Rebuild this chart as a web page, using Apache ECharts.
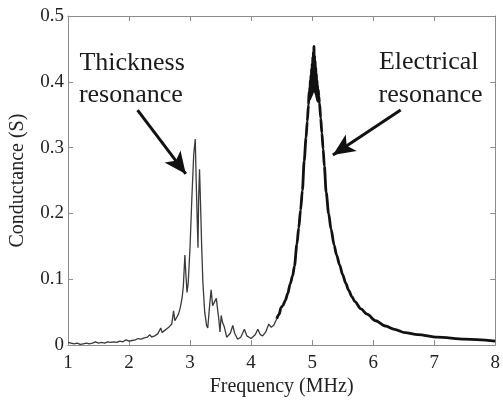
<!DOCTYPE html>
<html>
<head>
<meta charset="utf-8">
<script src="https://cdn.jsdelivr.net/npm/echarts@6/dist/echarts.min.js"></script>
<style>
html,body{margin:0;padding:0;background:#fff;}
#chart{width:503px;height:402px;}
</style>
</head>
<body>
<div id="chart"></div>
<script>
// Frequency (MHz)
var freq = [
  1.00,1.05,1.10,1.15,1.20,1.25,1.30,1.35,1.40,1.45,1.50,1.55,1.60,1.65,1.70,1.75,1.80,1.85,1.90,1.95,
  2.00,2.05,2.10,2.15,2.20,2.25,2.30,2.34,2.37,2.42,2.47,2.50,2.52,2.54,2.58,2.62,2.66,2.70,2.73,2.75,
  2.78,2.81,2.84,2.87,2.89,2.915,2.93,2.95,2.97,3.00,3.03,3.06,3.085,3.10,3.12,3.13,3.14,3.155,3.17,3.19,
  3.21,3.24,3.27,3.29,3.32,3.345,3.37,3.39,3.43,3.45,3.47,3.49,3.51,3.53,3.56,3.60,3.63,3.66,3.70,3.73,
  3.78,3.83,3.89,3.93,4.00,4.03,4.07,4.11,4.15,4.19,4.24,4.29,4.33,4.37,4.42,4.46,4.49,4.52,4.56,4.60,
  4.64,4.68,4.71,4.75,4.78,4.81,4.84,4.87,4.90,4.92,4.94,
  4.950,4.955,4.960,4.965,4.970,4.975,4.980,4.985,4.990,4.995,5.000,5.005,5.010,5.015,5.020,5.025,
  5.030,5.035,5.040,5.045,5.050,5.055,5.060,5.065,5.070,5.075,5.080,5.085,5.090,5.095,5.100,5.110,
  5.12,5.14,5.16,5.18,5.20,5.23,5.27,5.31,5.36,5.40,5.45,5.50,5.55,5.60,5.65,5.70,5.80,5.90,6.04,
  6.20,6.35,6.52,6.73,7.05,7.50,8.00
];
// Conductance (S)
var cond = [
  0.004,0.003,0.002,0.003,0.001,0.002,0.003,0.002,0.003,0.005,0.003,0.004,0.003,0.005,0.004,0.005,0.004,0.006,0.005,0.008,
  0.006,0.007,0.008,0.010,0.009,0.011,0.012,0.016,0.012,0.014,0.017,0.018,0.026,0.019,0.022,0.025,0.028,0.032,0.052,0.037,
  0.042,0.047,0.057,0.072,0.090,0.137,0.110,0.080,0.095,0.150,0.225,0.290,0.313,0.250,0.180,0.148,0.220,0.267,0.220,0.150,
  0.095,0.050,0.030,0.026,0.060,0.084,0.060,0.058,0.071,0.055,0.040,0.020,0.045,0.035,0.028,0.012,0.010,0.018,0.030,0.018,
  0.009,0.012,0.024,0.014,0.010,0.011,0.016,0.024,0.016,0.014,0.020,0.032,0.027,0.030,0.040,0.047,0.057,0.060,0.068,0.078,
  0.093,0.105,0.120,0.153,0.178,0.205,0.235,0.280,0.315,0.340,0.365,
  0.385,0.372,0.392,0.374,0.402,0.376,0.410,0.378,0.420,0.380,0.428,0.382,0.438,0.385,0.446,0.390,
  0.454,0.388,0.440,0.385,0.432,0.382,0.422,0.380,0.412,0.376,0.402,0.372,0.395,0.370,0.388,0.378,
  0.368,0.345,0.322,0.298,0.272,0.232,0.200,0.176,0.152,0.137,0.122,0.107,0.094,0.083,0.074,0.066,0.055,0.047,0.037,
  0.029,0.024,0.019,0.016,0.012,0.009,0.006
];
var splitFreq = 4.42;
var xTicks = [1,2,3,4,5,6,7,8];
var yTicks = [0,0.1,0.2,0.3,0.4,0.5];
var annotationTexts = [
  {text:'Thickness', at:[2.05,0.429]},
  {text:'resonance', at:[2.03,0.380]},
  {text:'Electrical', at:[6.91,0.430]},
  {text:'resonance', at:[6.94,0.380]}
];
var arrows = [
  [[2.14,0.357],[2.93,0.260]],
  [[6.45,0.357],[5.34,0.289]]
];

var thin = [], thick = [];
for (var i = 0; i < freq.length; i++) {
  if (freq[i] <= splitFreq) thin.push([freq[i], cond[i]]);
  if (freq[i] >= splitFreq) thick.push([freq[i], cond[i]]);
}

var FONT = 'Liberation Serif';
var axisColor = '#8c8c8c';
var chart = echarts.init(document.getElementById('chart'), null, {renderer:'canvas'});

function baseAxis(extra) {
  return Object.assign({
    axisLine:{show:true, onZero:false, lineStyle:{color:axisColor, width:1}},
    axisTick:{show:true, inside:true, length:5, lineStyle:{color:axisColor}},
    splitLine:{show:false}
  }, extra);
}

chart.setOption({
  animation:false,
  backgroundColor:'#fff',
  grid:{left:67, right:1, top:16, bottom:49, containLabel:false},
  xAxis:[
    baseAxis({type:'value', position:'bottom', min:1, max:8, interval:1,
      axisLabel:{show:true, margin:8, color:'#222', fontFamily:FONT, fontSize:19,
        formatter:function(v){ return xTicks.indexOf(v) >= 0 ? String(v) : ''; }},
      name:'Frequency (MHz)', nameLocation:'middle', nameGap:27,
      nameTextStyle:{color:'#222', fontFamily:FONT, fontSize:20}}),
    baseAxis({type:'value', position:'top', min:1, max:8, interval:1, axisLabel:{show:false}})
  ],
  yAxis:[
    baseAxis({type:'value', position:'left', min:0, max:0.5, interval:0.1,
      axisLabel:{show:true, margin:4, color:'#222', fontFamily:FONT, fontSize:19,
        formatter:function(v){ var r = Math.round(v*10)/10; return r === 0 ? '0' : String(r); }},
      name:'Conductance (S)', nameLocation:'middle', nameGap:40, nameRotate:90,
      nameTextStyle:{color:'#222', fontFamily:FONT, fontSize:20}}),
    baseAxis({type:'value', position:'right', min:0, max:0.5, interval:0.1, axisLabel:{show:false}})
  ],
  series:[
    {type:'line', data:thin, xAxisIndex:0, yAxisIndex:0, showSymbol:false, symbol:'none',
      lineStyle:{color:'#3a3a3a', width:1.3}, z:3,
      markLine:{silent:true, symbol:['none','arrow'], symbolSize:[15,22],
        label:{show:false},
        lineStyle:{color:'#111', width:3, type:'solid'},
        data: arrows.map(function(a){ return [{coord:a[0]},{coord:a[1]}]; })
      }},
    {type:'line', data:thick, xAxisIndex:0, yAxisIndex:0, showSymbol:false, symbol:'none',
      smooth:0.3, smoothMonotone:'x',
      lineStyle:{color:'#111', width:2.8}, z:4}
  ]
});

var g = annotationTexts.map(function(t){
  var p = chart.convertToPixel({xAxisIndex:0, yAxisIndex:0}, t.at);
  return {type:'text', x:p[0], y:p[1], z:10,
    style:{text:t.text, fill:'#1a1a1a', font:'26px "Liberation Serif"', align:'center', verticalAlign:'middle'}};
});
chart.setOption({graphic:g});
</script>
</body>
</html>
